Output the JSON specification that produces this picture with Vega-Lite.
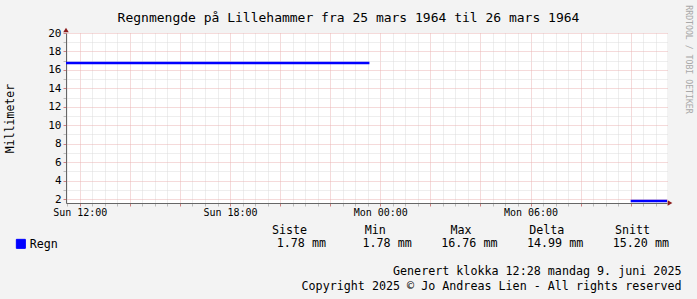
{
  "$schema": "https://vega.github.io/schema/vega-lite/v6.json",
  "autosize": {"type": "none"},
  "width": 601,
  "height": 170,
  "padding": {"left": 66, "top": 33, "right": 30, "bottom": 96},
  "background": "#f3f3f3",
  "config": {"view": {"fill": "#ffffff", "stroke": null}, "font": "DejaVu Sans Mono"},
  "title": {
    "text": "Regnmengde på Lillehammer fra 25 mars 1964 til 26 mars 1964",
    "font": "DejaVu Sans Mono", "fontSize": 13, "fontWeight": "normal", "color": "#000000",
    "anchor": "middle", "frame": "group", "dx": -18, "baseline": "alphabetic", "offset": -30
  },
  "layer": [
    {
      "layer": [
        {
          "data": {"values": [
            {"time": "1964-03-25T11:27:00Z", "mm": 16.76, "seg": 1, "series": "Regn"},
            {"time": "1964-03-25T23:34:00Z", "mm": 16.76, "seg": 1, "series": "Regn"},
            {"time": "1964-03-26T10:00:00Z", "mm": 1.78, "seg": 2, "series": "Regn"},
            {"time": "1964-03-26T11:27:00Z", "mm": 1.78, "seg": 2, "series": "Regn"}
          ]},
          "mark": {"type": "line", "strokeWidth": 2.5, "clip": true},
          "encoding": {
            "x": {
              "field": "time", "type": "temporal",
              "scale": {"type": "utc", "nice": false, "domain": [
                {"year": 1964, "month": "mar", "date": 25, "hours": 11, "minutes": 27, "utc": true},
                {"year": 1964, "month": "mar", "date": 26, "hours": 11, "minutes": 27, "utc": true}
              ]},
              "axis": {
                "tickCount": 48,
                "grid": true, "gridDash": [1, 1],
                "gridColor": {"condition": {"test": "utchours(datum.value) % 2 === 0 && utcminutes(datum.value) === 0", "value": "#ebb5b5"}, "value": "#dcdcdc"},
                "labelExpr": "utcminutes(datum.value) === 0 && utchours(datum.value) % 6 === 0 ? (utcdate(datum.value) === 25 ? 'Sun ' : 'Mon ') + utcFormat(datum.value, '%H:%M') : ''",
                "labelOverlap": false, "labelFlush": false, "labelAngle": 0,
                "labelFont": "DejaVu Sans Mono", "labelFontSize": 10, "labelColor": "#000000",
                "labelBaseline": "alphabetic", "labelPadding": 9,
                "tickSize": 3,
                "tickColor": {"condition": {"test": "utchours(datum.value) % 2 === 0 && utcminutes(datum.value) === 0", "value": "#d08080"}, "value": "#bbbbbb"},
                "domainColor": "#666666",
                "title": ["Generert klokka 12:28 mandag 9. juni 2025", "Copyright 2025 © Jo Andreas Lien - All rights reserved"],
                "titleX": 615, "titleY": 71, "titleAlign": "right", "titleBaseline": "alphabetic", "titleAngle": 0,
                "titleFont": "DejaVu Sans Mono", "titleFontSize": 11.7, "titleFontWeight": "normal", "titleColor": "#000000", "titleLineHeight": 15
              }
            },
            "y": {
              "field": "mm", "type": "quantitative",
              "scale": {"domain": [1.57, 20], "nice": false, "zero": false},
              "axis": {
                "tickCount": 18, "grid": true, "gridDash": [1, 1],
                "gridColor": {"condition": {"test": "datum.value % 2 === 0", "value": "#ebb5b5"}, "value": "#dcdcdc"},
                "labelExpr": "datum.value % 2 === 0 ? datum.label : ''",
                "labelOverlap": false, "labelFlush": false,
                "labelFont": "DejaVu Sans Mono", "labelFontSize": 11, "labelColor": "#000000", "labelPadding": 2,
                "tickSize": 3,
                "tickColor": {"condition": {"test": "datum.value % 2 === 0", "value": "#d08080"}, "value": "#bbbbbb"},
                "domainColor": "#666666",
                "title": "Millimeter", "titleX": -56, "titleY": 85, "titleAngle": -90, "titleAlign": "center", "titleBaseline": "middle",
                "titleFont": "DejaVu Sans Mono", "titleFontSize": 11.5, "titleFontWeight": "normal", "titleColor": "#000000"
              }
            },
            "color": {
              "field": "series", "type": "nominal",
              "scale": {"range": ["#0000ff"]},
              "legend": {
                "orient": "none", "legendX": -51, "legendY": 205, "title": null,
                "symbolType": "square", "symbolSize": 81, "symbolFillColor": "#0000ff", "symbolStrokeColor": "#000000", "symbolStrokeWidth": 1,
                "labelFont": "DejaVu Sans Mono", "labelFontSize": 11.7, "labelColor": "#000000", "labelOffset": 3, "padding": 0
              }
            },
            "detail": {"field": "seg", "type": "nominal"}
          }
        },
        {
          "data": {"values": [{"axis": "x"}]},
          "mark": {"type": "point", "shape": "triangle-right", "filled": true, "color": "#8b1c1c", "opacity": 1, "size": 30, "xOffset": 3, "clip": false},
          "encoding": {
            "x": {"datum": {"year": 1964, "month": "mar", "date": 26, "hours": 11, "minutes": 27, "utc": true}, "type": "temporal"},
            "y": {"datum": 1.57, "type": "quantitative"}
          }
        },
        {
          "data": {"values": [{"axis": "y"}]},
          "mark": {"type": "point", "shape": "triangle-up", "filled": true, "color": "#8b1c1c", "opacity": 1, "size": 30, "yOffset": -3, "clip": false},
          "encoding": {
            "x": {"datum": {"year": 1964, "month": "mar", "date": 25, "hours": 11, "minutes": 27, "utc": true}, "type": "temporal"},
            "y": {"datum": 20, "type": "quantitative"}
          }
        }
      ]
    },
    {
      "data": {"values": [
        {"stat": "Siste", "val": "1.78 mm", "series": "Regn"},
        {"stat": "Min", "val": "1.78 mm", "series": "Regn"},
        {"stat": "Max", "val": "16.76 mm", "series": "Regn"},
        {"stat": "Delta", "val": "14.99 mm", "series": "Regn"},
        {"stat": "Snitt", "val": "15.20 mm", "series": "Regn"}
      ]},
      "mark": {"type": "text", "align": "right", "baseline": "alphabetic", "font": "DejaVu Sans Mono", "fontSize": 11.7, "color": "#000000"},
      "encoding": {
        "x": {
          "field": "stat", "type": "nominal", "sort": null,
          "scale": {"type": "point", "range": [260, 603], "padding": 0},
          "axis": {
            "orient": "bottom", "domain": false, "ticks": false, "tickSize": 0, "grid": false, "labelAngle": 0,
            "labelFont": "DejaVu Sans Mono", "labelFontSize": 11.7, "labelColor": "#000000",
            "labelBaseline": "alphabetic", "labelPadding": 30, "labelOffset": -37, "labelAlign": "center",
            "labelOverlap": false, "title": null
          }
        },
        "y": {
          "field": "series", "type": "nominal",
          "scale": {"type": "point", "range": [214, 214], "padding": 0},
          "axis": {
            "orient": "right", "domain": false, "ticks": false, "labels": false, "grid": false,
            "title": "RRDTOOL / TOBI OETIKER", "titleX": 20, "titleY": 26, "titleAngle": 90, "titleAlign": "center", "titleBaseline": "middle",
            "titleFont": "DejaVu Sans Mono", "titleFontSize": 8.2, "titleFontWeight": "normal", "titleColor": "#a8a8a8"
          }
        },
        "text": {"field": "val"}
      }
    }
  ],
  "resolve": {
    "scale": {"x": "independent", "y": "independent", "color": "independent"},
    "axis": {"x": "independent", "y": "independent"}
  }
}
